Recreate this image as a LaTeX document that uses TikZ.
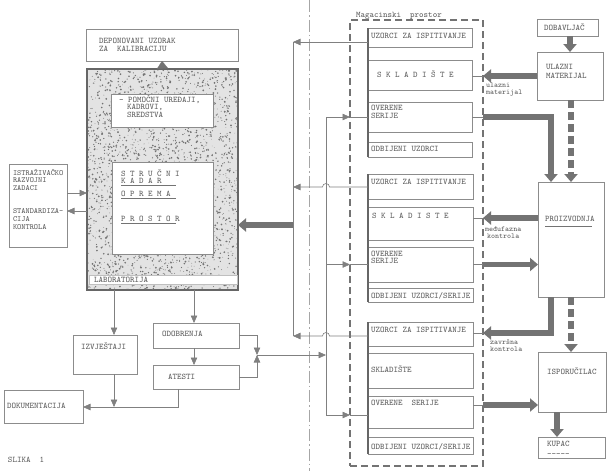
\documentclass[tikz,border=0pt]{standalone}
\usepackage{fontspec}
\usetikzlibrary{arrows.meta,fit}
\begin{document}
\begin{tikzpicture}[x=1pt,y=-1pt,
  box/.style={draw=black!45, line width=0.6pt, fill=white, inner sep=0pt, outer sep=0pt},
  txt/.style={anchor=base west, inner sep=0pt, outer sep=0pt, font=\fontsize{8.6}{8.6}\ttfamily, text=black!65},
  stxt/.style={txt, font=\fontsize{7.9}{7.9}\ttfamily},
  lbl/.style={txt, font=\fontsize{7.6}{7.6}\ttfamily},
  conn/.style={draw=black!50, line width=0.6pt},
  tip/.style={-{Triangle[length=7.5pt,width=6.5pt]}},
  heavy/.style={draw=black!55, line width=5.5pt, -{Triangle[length=8pt,width=13pt]}},
  heavydash/.style={heavy, dash pattern=on 8pt off 4pt},
  bar/.style={draw=black!60, line width=2.6pt},
  uline/.style={draw=black!55, line width=0.5pt}
]
\useasboundingbox (0,0) rectangle (609,471);

% separator line
\draw[black!35, line width=0.5pt, dash pattern=on 12pt off 3pt on 1.5pt off 3pt] (309,0) -- (309,471);

% ---------- laboratory ----------
\node[box, fit={(86,29)(238,61)}] (depon) {};
\node[draw=black!60, line width=1.8pt, fill=gray!22, inner sep=0pt, outer sep=0pt, fit={(87,69)(238,290)}] (lab) {};
\begin{scope}
  \clip (88,70) rectangle (237,289);
  \pgfmathsetseed{7}
  \foreach \i in {1,...,2600}{
    \pgfmathsetmacro{\rx}{87+152*rnd}
    \pgfmathsetmacro{\ry}{69+222*rnd}
    \pgfmathsetmacro{\rr}{0.3+0.7*rnd}
    \fill[black!55] (\rx,\ry) circle[radius=\rr];
  }
\end{scope}
\node[box, fit={(111,94)(213,127)}] (pom) {};
\node[box, fit={(112,162)(213,254)}] (struc) {};
\node[box, draw=black!25, fit={(89,275)(237,284)}] (labstrip) {};

\node[txt] (tdep1) at (99,43) {DEPONOVANI UZORAK};
\node[txt] (tdep2) at (99,51) {ZA\ \ KALIBRACIJU};
\node[txt] (tpom1) at (119,102) {- POMOĆNI UREĐAJI,};
\node[txt] (tpom2) at (127,109.5) {KADROVI,};
\node[txt] (tpom3) at (127,117) {SREDSTVA};
\node[txt] (tst1) at (121,176) {S T R U Č N I};
\node[txt] (tst2) at (121,183) {K A D A R};
\node[txt] (tst3) at (121,196) {O P R E M A};
\node[txt] (tst4) at (121,221) {P R O S T O R};
\draw[uline] (121,185.5) -- (176,185.5);
\draw[uline] (121,198.5) -- (176,198.5);
\draw[uline] (121,223.5) -- (176,223.5);
\node[txt] (tlab) at (94,282) {LABORATORIJA};

\draw[black!55, line width=0.1pt, -{Triangle[length=7.5pt,width=11pt]}] (lab.north) -- (depon.south);

% research box
\node[box, fit={(9,164)(67,247)}] (istr) {};
\node[stxt] (tis1) at (13,175) {ISTRAŽIVAČKO};
\node[stxt] (tis2) at (13,182.5) {RAZVOJNI};
\node[stxt] (tis3) at (13,190) {ZADACI};
\node[stxt] (tis4) at (13,213) {STANDARDIZA-};
\node[stxt] (tis5) at (13,221) {CIJA};
\node[stxt] (tis6) at (13,229) {KONTROLA};
\draw[conn, tip] (istr.east |- 0,193) -- (lab.west |- 0,193);
\draw[conn, tip] (lab.west |- 0,211) -- (istr.east |- 0,211);

% lower left boxes
\node[box, fit={(73,335)(137,374)}] (izv) {};
\node[box, fit={(153,323)(239,348)}] (odob) {};
\node[box, fit={(153,365)(239,389)}] (atest) {};
\node[box, fit={(4,390)(83,423)}] (dok) {};
\node[txt] (tizv) at (81,349) {IZVJEŠTAJI};
\node[txt] (todob) at (162,336) {ODOBRENJA};
\node[txt] (tatest) at (168,379.5) {ATESTI};
\node[txt] (tdok) at (7,408.5) {DOKUMENTACIJA};
\node[txt] (tslika) at (8,462.5) {SLIKA\ \ 1};

\draw[conn, tip] (lab.south -| 114,0) -- (izv.north -| 114,0);
\draw[conn, tip] (lab.south -| 194,0) -- (odob.north -| 194,0);
\draw[conn, tip] (odob.south -| 194,0) -- (atest.north -| 194,0);
\draw[conn, tip] (izv.south -| 114,0) -- (114,407);
\draw[conn, tip] (atest.south -| 178,0) |- (dok.east |- 0,407);
\coordinate (jb) at (257,355);
\draw[conn, tip] (odob.east) -| (jb);
\draw[conn, tip] (atest.east) -| (jb);

% ---------- warehouse ----------
\node[draw=black!55, line width=1.1pt, dash pattern=on 7pt off 4pt, inner sep=0pt, outer sep=0pt, fit={(350,20)(483,466)}] (mag) {};
\node[txt] (tmag) at (356,17) {Magacinski\ \ prostor};

\node[box, fit={(368,28)(472,47)}] (u1) {};
\node[box, fit={(368,60)(472,90)}] (s1) {};
\node[box, fit={(368,102)(472,132)}] (o1) {};
\node[box, fit={(368,142)(472,157)}] (d1) {};
\draw[bar] (u1.north west) -- (d1.south west);
\node[txt] (tu1) at (371,38) {UZORCI ZA ISPITIVANJE};
\node[txt] (ts1) at (377,77) {S K L A D I Š T E};
\node[txt] (to1a) at (371,110) {OVERENE};
\node[txt] (to1b) at (371,118) {SERIJE};
\node[txt] (td1) at (371,151.5) {ODBIJENI UZORCI};

\node[box, fit={(368,174)(473,199)}] (u2) {};
\node[box, fit={(368,207)(473,240)}] (s2) {};
\node[box, fit={(368,247)(473,282)}] (o2) {};
\node[box, fit={(368,288)(473,302)}] (d2) {};
\draw[bar] (u2.north west) -- (d2.south west);
\node[txt] (tu2) at (371,184) {UZORCI ZA ISPITIVANJE};
\node[txt] (ts2) at (372,218) {S K L A D I S T E};
\node[txt] (to2a) at (371,256) {OVERENE};
\node[txt] (to2b) at (371,263) {SERIJE};
\node[txt] (td2) at (371,298) {ODBIJENI UZORCI/SERIJE};

\node[box, fit={(368,322)(473,346)}] (u3) {};
\node[box, fit={(368,353)(473,388)}] (s3) {};
\node[box, fit={(368,396)(473,428)}] (o3) {};
\node[box, fit={(368,437)(473,454)}] (d3) {};
\draw[bar] (u3.north west) -- (d3.south west);
\node[txt] (tu3) at (371,332) {UZORCI ZA ISPITIVANJE};
\node[txt] (ts3) at (371,372) {SKLADIŠTE};
\node[txt] (to3) at (371,405) {OVERENE\ \ SERIJE};
\node[txt] (td3) at (371,449) {ODBIJENI UZORCI/SERIJE};

% ---------- right column ----------
\node[box, fit={(537,19)(598,36)}] (dob) {};
\node[box, fit={(537,52)(603,100)}] (ulaz) {};
\node[box, fit={(538,182)(604,297)}] (proiz) {};
\node[box, fit={(538,352)(606,412)}] (ispor) {};
\node[box, fit={(538,437)(605,458)}] (kupac) {};
\node[txt] (tdob) at (544,30) {DOBAVLJAČ};
\node[txt] (tul1) at (546,69) {ULAZNI};
\node[txt] (tul2) at (546,78) {MATERIJAL};
\node[txt] (tpro) at (545,221) {PROIZVODNJA};
\draw[uline] (545,226.5) -- (592,226.5);
\node[txt] (tisp) at (547,374) {ISPORUČILAC};
\node[txt] (tkup1) at (547,446) {KUPAC};
\node[txt] (tkup2) at (547,456.5) {-----};

\node[lbl] (lul1) at (486,87) {ulazni};
\node[lbl] (lul2) at (486,94) {materijal};
\node[lbl] (lmf1) at (485,231) {međufazna};
\node[lbl] (lmf2) at (487,238) {kontrola};
\node[lbl] (lzv1) at (490,344) {završna};
\node[lbl] (lzv2) at (490,351) {kontrola};

% heavy flows
\draw[heavy] (dob.south -| 570,0) -- (ulaz.north -| 570,0);
\draw[heavy] (ulaz.west |- 0,76) -- (mag.east |- 0,76);
\draw[conn] (mag.east |- 0,76) -- (s1.east |- 0,76);
\draw[conn] (o1.east) -- (mag.east |- o1.east);
\draw[heavy] (mag.east |- o1.east) -| (proiz.north -| 551,0);
\draw[heavydash] (ulaz.south -| 571,0) -- (proiz.north -| 571,0);
\draw[heavy] (proiz.west |- 0,218) -- (mag.east |- 0,218);
\draw[conn] (mag.east |- 0,218) -- (s2.east |- 0,218);
\draw[conn] (o2.east) -- (mag.east |- o2.east);
\draw[heavy] (mag.east |- o2.east) -- (proiz.west |- o2.east);
\draw[heavy] (proiz.south -| 551,0) |- (mag.east |- 0,333);
\draw[conn] (mag.east |- 0,333) -- (u3.east |- 0,333);
\draw[heavydash] (proiz.south -| 571,0) -- (ispor.north -| 571,0);
\draw[conn] (o3.east |- 0,405) -- (mag.east |- 0,405);
\draw[heavy] (mag.east |- 0,405) -- (ispor.west |- 0,405);
\draw[heavy] (ispor.south -| 557,0) -- (kupac.north -| 557,0);

% samples collector to laboratory
\coordinate (c1) at (293,42);
\coordinate (c2) at (293,187);
\coordinate (c3) at (293,336);
\coordinate (cl) at (293,225);
\draw[conn, tip] (u1.west |- c1) -- (c1);
\draw[conn] (c1) -- (c3);
\draw[conn, tip] (u2.west |- c2) -- (329.5,187) arc[start angle=0, end angle=-180, radius=3.5] -- (c2);
\draw[conn, tip] (u3.west |- c3) -- (329.5,336) arc[start angle=0, end angle=-180, radius=3.5] -- (c3);
\draw[heavy] (cl) -- (lab.east |- cl);

% approvals distributor to certified series
\coordinate (v1) at (326,117);
\coordinate (v2) at (326,264.5);
\coordinate (v3) at (326,415);
\coordinate (vj) at (326,355);
\draw[conn] (v1) -- (v3);
\draw[conn, tip] (v1) -- (mag.west |- v1);
\draw[conn] (mag.west |- v1) -- (o1.west);
\draw[conn, tip] (v2) -- (mag.west |- v2);
\draw[conn] (mag.west |- v2) -- (o2.west);
\draw[conn, tip] (v3) -- (mag.west |- v3);
\draw[conn] (mag.west |- v3) -- (o3.west |- v3);
\draw[conn, tip] (jb) -- (vj);
\end{tikzpicture}
\end{document}
